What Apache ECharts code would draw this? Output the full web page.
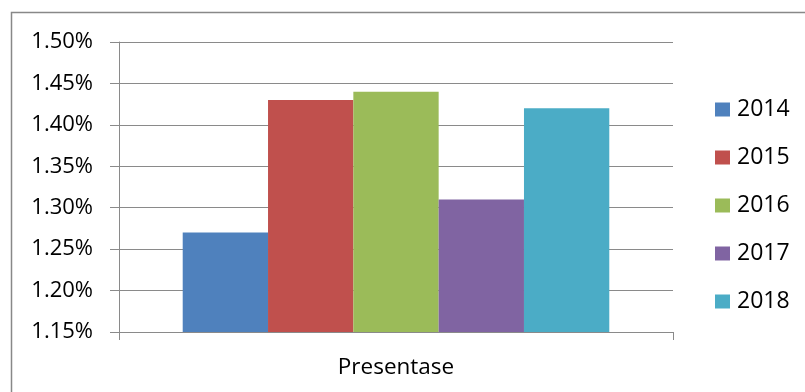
<!DOCTYPE html>
<html>
<head>
<meta charset="utf-8">
<script src="https://cdn.jsdelivr.net/npm/echarts@6/dist/echarts.min.js"></script>
<style>
html,body{margin:0;padding:0;background:#fff;}
#chart{width:805px;height:392px;}
</style>
</head>
<body>
<div id="chart"></div>
<script>
const categories = ['Presentase'];
const seriesNames = ['2014', '2015', '2016', '2017', '2018'];
const seriesValues = [1.27, 1.43, 1.44, 1.31, 1.42];
const seriesColors = ['#4F81BD', '#C0504D', '#9BBB59', '#8064A2', '#4BACC6'];
const yMin = 1.15, yMax = 1.50, yStep = 0.05;

const FONT = '"Open Sans", "Liberation Sans", sans-serif';
const GRAY = '#8a8a8a';

const chart = echarts.init(document.getElementById('chart'), null, {renderer: 'canvas'});
chart.setOption({
  animation: false,
  backgroundColor: '#fff',
  textStyle: {fontFamily: FONT},
  graphic: [{
    type: 'rect',
    shape: {x: 11.5, y: 12.5, width: 900, height: 500},
    style: {fill: 'none', stroke: '#888', lineWidth: 1.5},
    silent: true
  }],
  grid: {left: 119, top: 42, right: 132, bottom: 60, containLabel: false},
  legend: {
    orient: 'vertical',
    left: 710, top: 93,
    itemWidth: 15, itemHeight: 14, itemGap: 25,
    icon: 'rect',
    data: seriesNames,
    textStyle: {fontFamily: FONT, fontSize: 23, color: '#000', padding: [0, 0, 0, 2], lineHeight: 23}
  },
  xAxis: {
    type: 'category',
    data: categories,
    axisLine: {lineStyle: {color: GRAY, width: 1}},
    axisTick: {show: true, length: 8, lineStyle: {color: GRAY}},
    axisLabel: {color: '#000', fontSize: 22.5, fontFamily: FONT, margin: 24}
  },
  yAxis: {
    type: 'value',
    min: yMin, max: yMax, interval: yStep,
    axisLine: {show: true, lineStyle: {color: GRAY, width: 1}},
    axisTick: {show: true, length: 9, lineStyle: {color: GRAY}},
    splitLine: {show: true, lineStyle: {color: GRAY, width: 1}},
    axisLabel: {
      color: '#000', fontSize: 22, fontFamily: FONT, margin: 26,
      formatter: v => v.toFixed(2) + '%'
    }
  },
  series: seriesNames.map((name, i) => ({
    name: name,
    type: 'bar',
    data: [seriesValues[i]],
    itemStyle: {color: seriesColors[i]},
    barGap: '0%',
    barCategoryGap: '23%'
  }))
});
</script>
</body>
</html>
